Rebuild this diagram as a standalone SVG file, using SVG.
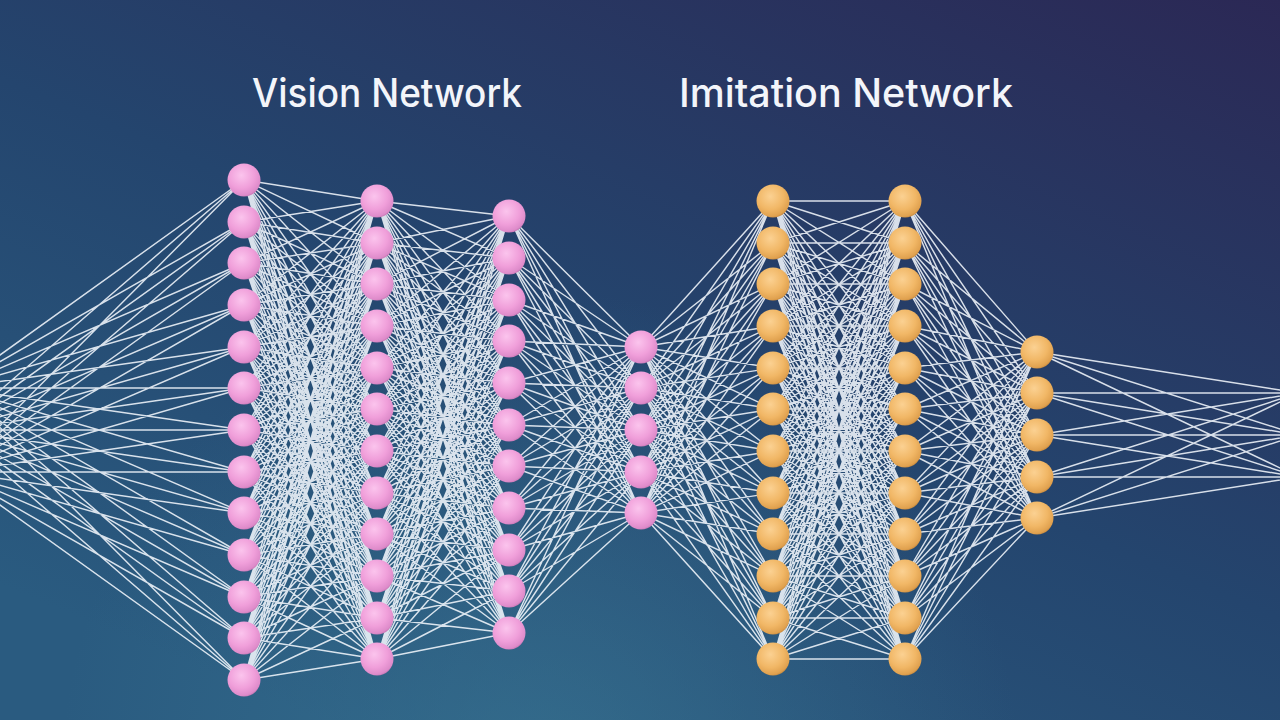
<svg xmlns="http://www.w3.org/2000/svg" width="1280" height="720" viewBox="0 0 1280 720">
<defs>
<linearGradient id="bg" x1="0.25" y1="1" x2="1" y2="0">
<stop offset="0" stop-color="#2a5b80"/>
<stop offset="0.45" stop-color="#24456e"/>
<stop offset="1" stop-color="#2b2855"/>
</linearGradient>
<radialGradient id="glow" cx="540" cy="770" r="480" gradientUnits="userSpaceOnUse">
<stop offset="0" stop-color="#3e7f9a" stop-opacity="0.5"/>
<stop offset="1" stop-color="#3e7f9a" stop-opacity="0"/>
</radialGradient>
<radialGradient id="pk" cx="0.42" cy="0.36" r="0.66">
<stop offset="0" stop-color="#fbc4ed"/>
<stop offset="0.6" stop-color="#f09fda"/>
<stop offset="0.92" stop-color="#de8bca"/>
<stop offset="1" stop-color="#c878b6"/>
</radialGradient>
<radialGradient id="og" cx="0.42" cy="0.36" r="0.66">
<stop offset="0" stop-color="#fbd192"/>
<stop offset="0.6" stop-color="#f1b766"/>
<stop offset="0.92" stop-color="#e0a14f"/>
<stop offset="1" stop-color="#c98b3f"/>
</radialGradient>
<style>
.c{fill:none;stroke:#f1f6fc;stroke-width:1.45;stroke-opacity:0.88;stroke-linejoin:round}
.p{fill:url(#pk)}
.o{fill:url(#og)}
.t{font-family:Inter,"Liberation Sans",sans-serif;font-size:39px;font-weight:500;fill:#f3f5fa}
</style>
</defs>
<rect width="1280" height="720" fill="url(#bg)"/>
<rect width="1280" height="720" fill="url(#glow)"/>
<g id="connectors">
<path class="c" d="M-46 388 244 180-46 388 244 222-46 388 244 263-46 388 244 305-46 388 244 347-46 388 244 388-46 388 244 430-46 388 244 472-46 388 244 513-46 388 244 555-46 388 244 597-46 388 244 638-46 388 244 680M-46 430 244 180-46 430 244 222-46 430 244 263-46 430 244 305-46 430 244 347-46 430 244 388-46 430 244 430-46 430 244 472-46 430 244 513-46 430 244 555-46 430 244 597-46 430 244 638-46 430 244 680M-46 472 244 180-46 472 244 222-46 472 244 263-46 472 244 305-46 472 244 347-46 472 244 388-46 472 244 430-46 472 244 472-46 472 244 513-46 472 244 555-46 472 244 597-46 472 244 638-46 472 244 680"/>
<path class="c" d="M244 180 377 201 244 180 377 243 244 180 377 284 244 180 377 326 244 180 377 368 244 180 377 409 244 180 377 451 244 180 377 493 244 180 377 534 244 180 377 576 244 180 377 618 244 180 377 659
M244 222 377 201 244 222 377 243 244 222 377 284 244 222 377 326 244 222 377 368 244 222 377 409 244 222 377 451 244 222 377 493 244 222 377 534 244 222 377 576 244 222 377 618 244 222 377 659
M244 263 377 201 244 263 377 243 244 263 377 284 244 263 377 326 244 263 377 368 244 263 377 409 244 263 377 451 244 263 377 493 244 263 377 534 244 263 377 576 244 263 377 618 244 263 377 659
M244 305 377 201 244 305 377 243 244 305 377 284 244 305 377 326 244 305 377 368 244 305 377 409 244 305 377 451 244 305 377 493 244 305 377 534 244 305 377 576 244 305 377 618 244 305 377 659
M244 347 377 201 244 347 377 243 244 347 377 284 244 347 377 326 244 347 377 368 244 347 377 409 244 347 377 451 244 347 377 493 244 347 377 534 244 347 377 576 244 347 377 618 244 347 377 659
M244 388 377 201 244 388 377 243 244 388 377 284 244 388 377 326 244 388 377 368 244 388 377 409 244 388 377 451 244 388 377 493 244 388 377 534 244 388 377 576 244 388 377 618 244 388 377 659
M244 430 377 201 244 430 377 243 244 430 377 284 244 430 377 326 244 430 377 368 244 430 377 409 244 430 377 451 244 430 377 493 244 430 377 534 244 430 377 576 244 430 377 618 244 430 377 659
M244 472 377 201 244 472 377 243 244 472 377 284 244 472 377 326 244 472 377 368 244 472 377 409 244 472 377 451 244 472 377 493 244 472 377 534 244 472 377 576 244 472 377 618 244 472 377 659
M244 513 377 201 244 513 377 243 244 513 377 284 244 513 377 326 244 513 377 368 244 513 377 409 244 513 377 451 244 513 377 493 244 513 377 534 244 513 377 576 244 513 377 618 244 513 377 659
M244 555 377 201 244 555 377 243 244 555 377 284 244 555 377 326 244 555 377 368 244 555 377 409 244 555 377 451 244 555 377 493 244 555 377 534 244 555 377 576 244 555 377 618 244 555 377 659
M244 597 377 201 244 597 377 243 244 597 377 284 244 597 377 326 244 597 377 368 244 597 377 409 244 597 377 451 244 597 377 493 244 597 377 534 244 597 377 576 244 597 377 618 244 597 377 659
M244 638 377 201 244 638 377 243 244 638 377 284 244 638 377 326 244 638 377 368 244 638 377 409 244 638 377 451 244 638 377 493 244 638 377 534 244 638 377 576 244 638 377 618 244 638 377 659
M244 680 377 201 244 680 377 243 244 680 377 284 244 680 377 326 244 680 377 368 244 680 377 409 244 680 377 451 244 680 377 493 244 680 377 534 244 680 377 576 244 680 377 618 244 680 377 659"/>
<path class="c" d="M377 201 509 216 377 201 509 258 377 201 509 300 377 201 509 341 377 201 509 383 377 201 509 425 377 201 509 466 377 201 509 508 377 201 509 550 377 201 509 591 377 201 509 633
M377 243 509 216 377 243 509 258 377 243 509 300 377 243 509 341 377 243 509 383 377 243 509 425 377 243 509 466 377 243 509 508 377 243 509 550 377 243 509 591 377 243 509 633
M377 284 509 216 377 284 509 258 377 284 509 300 377 284 509 341 377 284 509 383 377 284 509 425 377 284 509 466 377 284 509 508 377 284 509 550 377 284 509 591 377 284 509 633
M377 326 509 216 377 326 509 258 377 326 509 300 377 326 509 341 377 326 509 383 377 326 509 425 377 326 509 466 377 326 509 508 377 326 509 550 377 326 509 591 377 326 509 633
M377 368 509 216 377 368 509 258 377 368 509 300 377 368 509 341 377 368 509 383 377 368 509 425 377 368 509 466 377 368 509 508 377 368 509 550 377 368 509 591 377 368 509 633
M377 409 509 216 377 409 509 258 377 409 509 300 377 409 509 341 377 409 509 383 377 409 509 425 377 409 509 466 377 409 509 508 377 409 509 550 377 409 509 591 377 409 509 633
M377 451 509 216 377 451 509 258 377 451 509 300 377 451 509 341 377 451 509 383 377 451 509 425 377 451 509 466 377 451 509 508 377 451 509 550 377 451 509 591 377 451 509 633
M377 493 509 216 377 493 509 258 377 493 509 300 377 493 509 341 377 493 509 383 377 493 509 425 377 493 509 466 377 493 509 508 377 493 509 550 377 493 509 591 377 493 509 633
M377 534 509 216 377 534 509 258 377 534 509 300 377 534 509 341 377 534 509 383 377 534 509 425 377 534 509 466 377 534 509 508 377 534 509 550 377 534 509 591 377 534 509 633
M377 576 509 216 377 576 509 258 377 576 509 300 377 576 509 341 377 576 509 383 377 576 509 425 377 576 509 466 377 576 509 508 377 576 509 550 377 576 509 591 377 576 509 633
M377 618 509 216 377 618 509 258 377 618 509 300 377 618 509 341 377 618 509 383 377 618 509 425 377 618 509 466 377 618 509 508 377 618 509 550 377 618 509 591 377 618 509 633
M377 659 509 216 377 659 509 258 377 659 509 300 377 659 509 341 377 659 509 383 377 659 509 425 377 659 509 466 377 659 509 508 377 659 509 550 377 659 509 591 377 659 509 633"/>
<path class="c" d="M641 347 509 216 641 347 509 258 641 347 509 300 641 347 509 341 641 347 509 383 641 347 509 425 641 347 509 466 641 347 509 508 641 347 509 550 641 347 509 591 641 347 509 633
M641 388 509 216 641 388 509 258 641 388 509 300 641 388 509 341 641 388 509 383 641 388 509 425 641 388 509 466 641 388 509 508 641 388 509 550 641 388 509 591 641 388 509 633
M641 430 509 216 641 430 509 258 641 430 509 300 641 430 509 341 641 430 509 383 641 430 509 425 641 430 509 466 641 430 509 508 641 430 509 550 641 430 509 591 641 430 509 633
M641 472 509 216 641 472 509 258 641 472 509 300 641 472 509 341 641 472 509 383 641 472 509 425 641 472 509 466 641 472 509 508 641 472 509 550 641 472 509 591 641 472 509 633
M641 513 509 216 641 513 509 258 641 513 509 300 641 513 509 341 641 513 509 383 641 513 509 425 641 513 509 466 641 513 509 508 641 513 509 550 641 513 509 591 641 513 509 633"/>
<path class="c" d="M641 347 773 201 641 347 773 243 641 347 773 284 641 347 773 326 641 347 773 368 641 347 773 409 641 347 773 451 641 347 773 493 641 347 773 534 641 347 773 576 641 347 773 618 641 347 773 659
M641 388 773 201 641 388 773 243 641 388 773 284 641 388 773 326 641 388 773 368 641 388 773 409 641 388 773 451 641 388 773 493 641 388 773 534 641 388 773 576 641 388 773 618 641 388 773 659
M641 430 773 201 641 430 773 243 641 430 773 284 641 430 773 326 641 430 773 368 641 430 773 409 641 430 773 451 641 430 773 493 641 430 773 534 641 430 773 576 641 430 773 618 641 430 773 659
M641 472 773 201 641 472 773 243 641 472 773 284 641 472 773 326 641 472 773 368 641 472 773 409 641 472 773 451 641 472 773 493 641 472 773 534 641 472 773 576 641 472 773 618 641 472 773 659
M641 513 773 201 641 513 773 243 641 513 773 284 641 513 773 326 641 513 773 368 641 513 773 409 641 513 773 451 641 513 773 493 641 513 773 534 641 513 773 576 641 513 773 618 641 513 773 659"/>
<path class="c" d="M773 201 905 201 773 201 905 243 773 201 905 284 773 201 905 326 773 201 905 368 773 201 905 409 773 201 905 451 773 201 905 493 773 201 905 534 773 201 905 576 773 201 905 618 773 201 905 659
M773 243 905 201 773 243 905 243 773 243 905 284 773 243 905 326 773 243 905 368 773 243 905 409 773 243 905 451 773 243 905 493 773 243 905 534 773 243 905 576 773 243 905 618 773 243 905 659
M773 284 905 201 773 284 905 243 773 284 905 284 773 284 905 326 773 284 905 368 773 284 905 409 773 284 905 451 773 284 905 493 773 284 905 534 773 284 905 576 773 284 905 618 773 284 905 659
M773 326 905 201 773 326 905 243 773 326 905 284 773 326 905 326 773 326 905 368 773 326 905 409 773 326 905 451 773 326 905 493 773 326 905 534 773 326 905 576 773 326 905 618 773 326 905 659
M773 368 905 201 773 368 905 243 773 368 905 284 773 368 905 326 773 368 905 368 773 368 905 409 773 368 905 451 773 368 905 493 773 368 905 534 773 368 905 576 773 368 905 618 773 368 905 659
M773 409 905 201 773 409 905 243 773 409 905 284 773 409 905 326 773 409 905 368 773 409 905 409 773 409 905 451 773 409 905 493 773 409 905 534 773 409 905 576 773 409 905 618 773 409 905 659
M773 451 905 201 773 451 905 243 773 451 905 284 773 451 905 326 773 451 905 368 773 451 905 409 773 451 905 451 773 451 905 493 773 451 905 534 773 451 905 576 773 451 905 618 773 451 905 659
M773 493 905 201 773 493 905 243 773 493 905 284 773 493 905 326 773 493 905 368 773 493 905 409 773 493 905 451 773 493 905 493 773 493 905 534 773 493 905 576 773 493 905 618 773 493 905 659
M773 534 905 201 773 534 905 243 773 534 905 284 773 534 905 326 773 534 905 368 773 534 905 409 773 534 905 451 773 534 905 493 773 534 905 534 773 534 905 576 773 534 905 618 773 534 905 659
M773 576 905 201 773 576 905 243 773 576 905 284 773 576 905 326 773 576 905 368 773 576 905 409 773 576 905 451 773 576 905 493 773 576 905 534 773 576 905 576 773 576 905 618 773 576 905 659
M773 618 905 201 773 618 905 243 773 618 905 284 773 618 905 326 773 618 905 368 773 618 905 409 773 618 905 451 773 618 905 493 773 618 905 534 773 618 905 576 773 618 905 618 773 618 905 659
M773 659 905 201 773 659 905 243 773 659 905 284 773 659 905 326 773 659 905 368 773 659 905 409 773 659 905 451 773 659 905 493 773 659 905 534 773 659 905 576 773 659 905 618 773 659 905 659"/>
<path class="c" d="M1037 352 905 201 1037 352 905 243 1037 352 905 284 1037 352 905 326 1037 352 905 368 1037 352 905 409 1037 352 905 451 1037 352 905 493 1037 352 905 534 1037 352 905 576 1037 352 905 618 1037 352 905 659
M1037 393 905 201 1037 393 905 243 1037 393 905 284 1037 393 905 326 1037 393 905 368 1037 393 905 409 1037 393 905 451 1037 393 905 493 1037 393 905 534 1037 393 905 576 1037 393 905 618 1037 393 905 659
M1037 435 905 201 1037 435 905 243 1037 435 905 284 1037 435 905 326 1037 435 905 368 1037 435 905 409 1037 435 905 451 1037 435 905 493 1037 435 905 534 1037 435 905 576 1037 435 905 618 1037 435 905 659
M1037 477 905 201 1037 477 905 243 1037 477 905 284 1037 477 905 326 1037 477 905 368 1037 477 905 409 1037 477 905 451 1037 477 905 493 1037 477 905 534 1037 477 905 576 1037 477 905 618 1037 477 905 659
M1037 518 905 201 1037 518 905 243 1037 518 905 284 1037 518 905 326 1037 518 905 368 1037 518 905 409 1037 518 905 451 1037 518 905 493 1037 518 905 534 1037 518 905 576 1037 518 905 618 1037 518 905 659"/>
<path class="c" d="M1299 393 1037 352 1299 393 1037 393 1299 393 1037 435 1299 393 1037 477 1299 393 1037 518M1299 435 1037 352 1299 435 1037 393 1299 435 1037 435 1299 435 1037 477 1299 435 1037 518M1299 477 1037 352 1299 477 1037 393 1299 477 1037 435 1299 477 1037 477 1299 477 1037 518"/>
</g>
<g id="vision-layer-1">
<g id="v1-1"><circle class="p" cx="244" cy="180" r="16.5"/></g>
<g id="v1-2"><circle class="p" cx="244" cy="222" r="16.5"/></g>
<g id="v1-3"><circle class="p" cx="244" cy="263" r="16.5"/></g>
<g id="v1-4"><circle class="p" cx="244" cy="305" r="16.5"/></g>
<g id="v1-5"><circle class="p" cx="244" cy="347" r="16.5"/></g>
<g id="v1-6"><circle class="p" cx="244" cy="388" r="16.5"/></g>
<g id="v1-7"><circle class="p" cx="244" cy="430" r="16.5"/></g>
<g id="v1-8"><circle class="p" cx="244" cy="472" r="16.5"/></g>
<g id="v1-9"><circle class="p" cx="244" cy="513" r="16.5"/></g>
<g id="v1-10"><circle class="p" cx="244" cy="555" r="16.5"/></g>
<g id="v1-11"><circle class="p" cx="244" cy="597" r="16.5"/></g>
<g id="v1-12"><circle class="p" cx="244" cy="638" r="16.5"/></g>
<g id="v1-13"><circle class="p" cx="244" cy="680" r="16.5"/></g>
</g>
<g id="vision-layer-2">
<g id="v2-1"><circle class="p" cx="377" cy="201" r="16.5"/></g>
<g id="v2-2"><circle class="p" cx="377" cy="243" r="16.5"/></g>
<g id="v2-3"><circle class="p" cx="377" cy="284" r="16.5"/></g>
<g id="v2-4"><circle class="p" cx="377" cy="326" r="16.5"/></g>
<g id="v2-5"><circle class="p" cx="377" cy="368" r="16.5"/></g>
<g id="v2-6"><circle class="p" cx="377" cy="409" r="16.5"/></g>
<g id="v2-7"><circle class="p" cx="377" cy="451" r="16.5"/></g>
<g id="v2-8"><circle class="p" cx="377" cy="493" r="16.5"/></g>
<g id="v2-9"><circle class="p" cx="377" cy="534" r="16.5"/></g>
<g id="v2-10"><circle class="p" cx="377" cy="576" r="16.5"/></g>
<g id="v2-11"><circle class="p" cx="377" cy="618" r="16.5"/></g>
<g id="v2-12"><circle class="p" cx="377" cy="659" r="16.5"/></g>
</g>
<g id="vision-layer-3">
<g id="v3-1"><circle class="p" cx="509" cy="216" r="16.5"/></g>
<g id="v3-2"><circle class="p" cx="509" cy="258" r="16.5"/></g>
<g id="v3-3"><circle class="p" cx="509" cy="300" r="16.5"/></g>
<g id="v3-4"><circle class="p" cx="509" cy="341" r="16.5"/></g>
<g id="v3-5"><circle class="p" cx="509" cy="383" r="16.5"/></g>
<g id="v3-6"><circle class="p" cx="509" cy="425" r="16.5"/></g>
<g id="v3-7"><circle class="p" cx="509" cy="466" r="16.5"/></g>
<g id="v3-8"><circle class="p" cx="509" cy="508" r="16.5"/></g>
<g id="v3-9"><circle class="p" cx="509" cy="550" r="16.5"/></g>
<g id="v3-10"><circle class="p" cx="509" cy="591" r="16.5"/></g>
<g id="v3-11"><circle class="p" cx="509" cy="633" r="16.5"/></g>
</g>
<g id="vision-layer-4">
<g id="v4-1"><circle class="p" cx="641" cy="347" r="16.5"/></g>
<g id="v4-2"><circle class="p" cx="641" cy="388" r="16.5"/></g>
<g id="v4-3"><circle class="p" cx="641" cy="430" r="16.5"/></g>
<g id="v4-4"><circle class="p" cx="641" cy="472" r="16.5"/></g>
<g id="v4-5"><circle class="p" cx="641" cy="513" r="16.5"/></g>
</g>
<g id="imitation-layer-1">
<g id="m1-1"><circle class="o" cx="773" cy="201" r="16.5"/></g>
<g id="m1-2"><circle class="o" cx="773" cy="243" r="16.5"/></g>
<g id="m1-3"><circle class="o" cx="773" cy="284" r="16.5"/></g>
<g id="m1-4"><circle class="o" cx="773" cy="326" r="16.5"/></g>
<g id="m1-5"><circle class="o" cx="773" cy="368" r="16.5"/></g>
<g id="m1-6"><circle class="o" cx="773" cy="409" r="16.5"/></g>
<g id="m1-7"><circle class="o" cx="773" cy="451" r="16.5"/></g>
<g id="m1-8"><circle class="o" cx="773" cy="493" r="16.5"/></g>
<g id="m1-9"><circle class="o" cx="773" cy="534" r="16.5"/></g>
<g id="m1-10"><circle class="o" cx="773" cy="576" r="16.5"/></g>
<g id="m1-11"><circle class="o" cx="773" cy="618" r="16.5"/></g>
<g id="m1-12"><circle class="o" cx="773" cy="659" r="16.5"/></g>
</g>
<g id="imitation-layer-2">
<g id="m2-1"><circle class="o" cx="905" cy="201" r="16.5"/></g>
<g id="m2-2"><circle class="o" cx="905" cy="243" r="16.5"/></g>
<g id="m2-3"><circle class="o" cx="905" cy="284" r="16.5"/></g>
<g id="m2-4"><circle class="o" cx="905" cy="326" r="16.5"/></g>
<g id="m2-5"><circle class="o" cx="905" cy="368" r="16.5"/></g>
<g id="m2-6"><circle class="o" cx="905" cy="409" r="16.5"/></g>
<g id="m2-7"><circle class="o" cx="905" cy="451" r="16.5"/></g>
<g id="m2-8"><circle class="o" cx="905" cy="493" r="16.5"/></g>
<g id="m2-9"><circle class="o" cx="905" cy="534" r="16.5"/></g>
<g id="m2-10"><circle class="o" cx="905" cy="576" r="16.5"/></g>
<g id="m2-11"><circle class="o" cx="905" cy="618" r="16.5"/></g>
<g id="m2-12"><circle class="o" cx="905" cy="659" r="16.5"/></g>
</g>
<g id="imitation-layer-3">
<g id="m3-1"><circle class="o" cx="1037" cy="352" r="16.5"/></g>
<g id="m3-2"><circle class="o" cx="1037" cy="393" r="16.5"/></g>
<g id="m3-3"><circle class="o" cx="1037" cy="435" r="16.5"/></g>
<g id="m3-4"><circle class="o" cx="1037" cy="477" r="16.5"/></g>
<g id="m3-5"><circle class="o" cx="1037" cy="518" r="16.5"/></g>
</g>
<g id="titles">
<text class="t" x="252" y="107" textLength="270" lengthAdjust="spacingAndGlyphs">Vision Network</text>
<text class="t" x="679" y="107" textLength="334" lengthAdjust="spacingAndGlyphs">Imitation Network</text>
</g>
</svg>
